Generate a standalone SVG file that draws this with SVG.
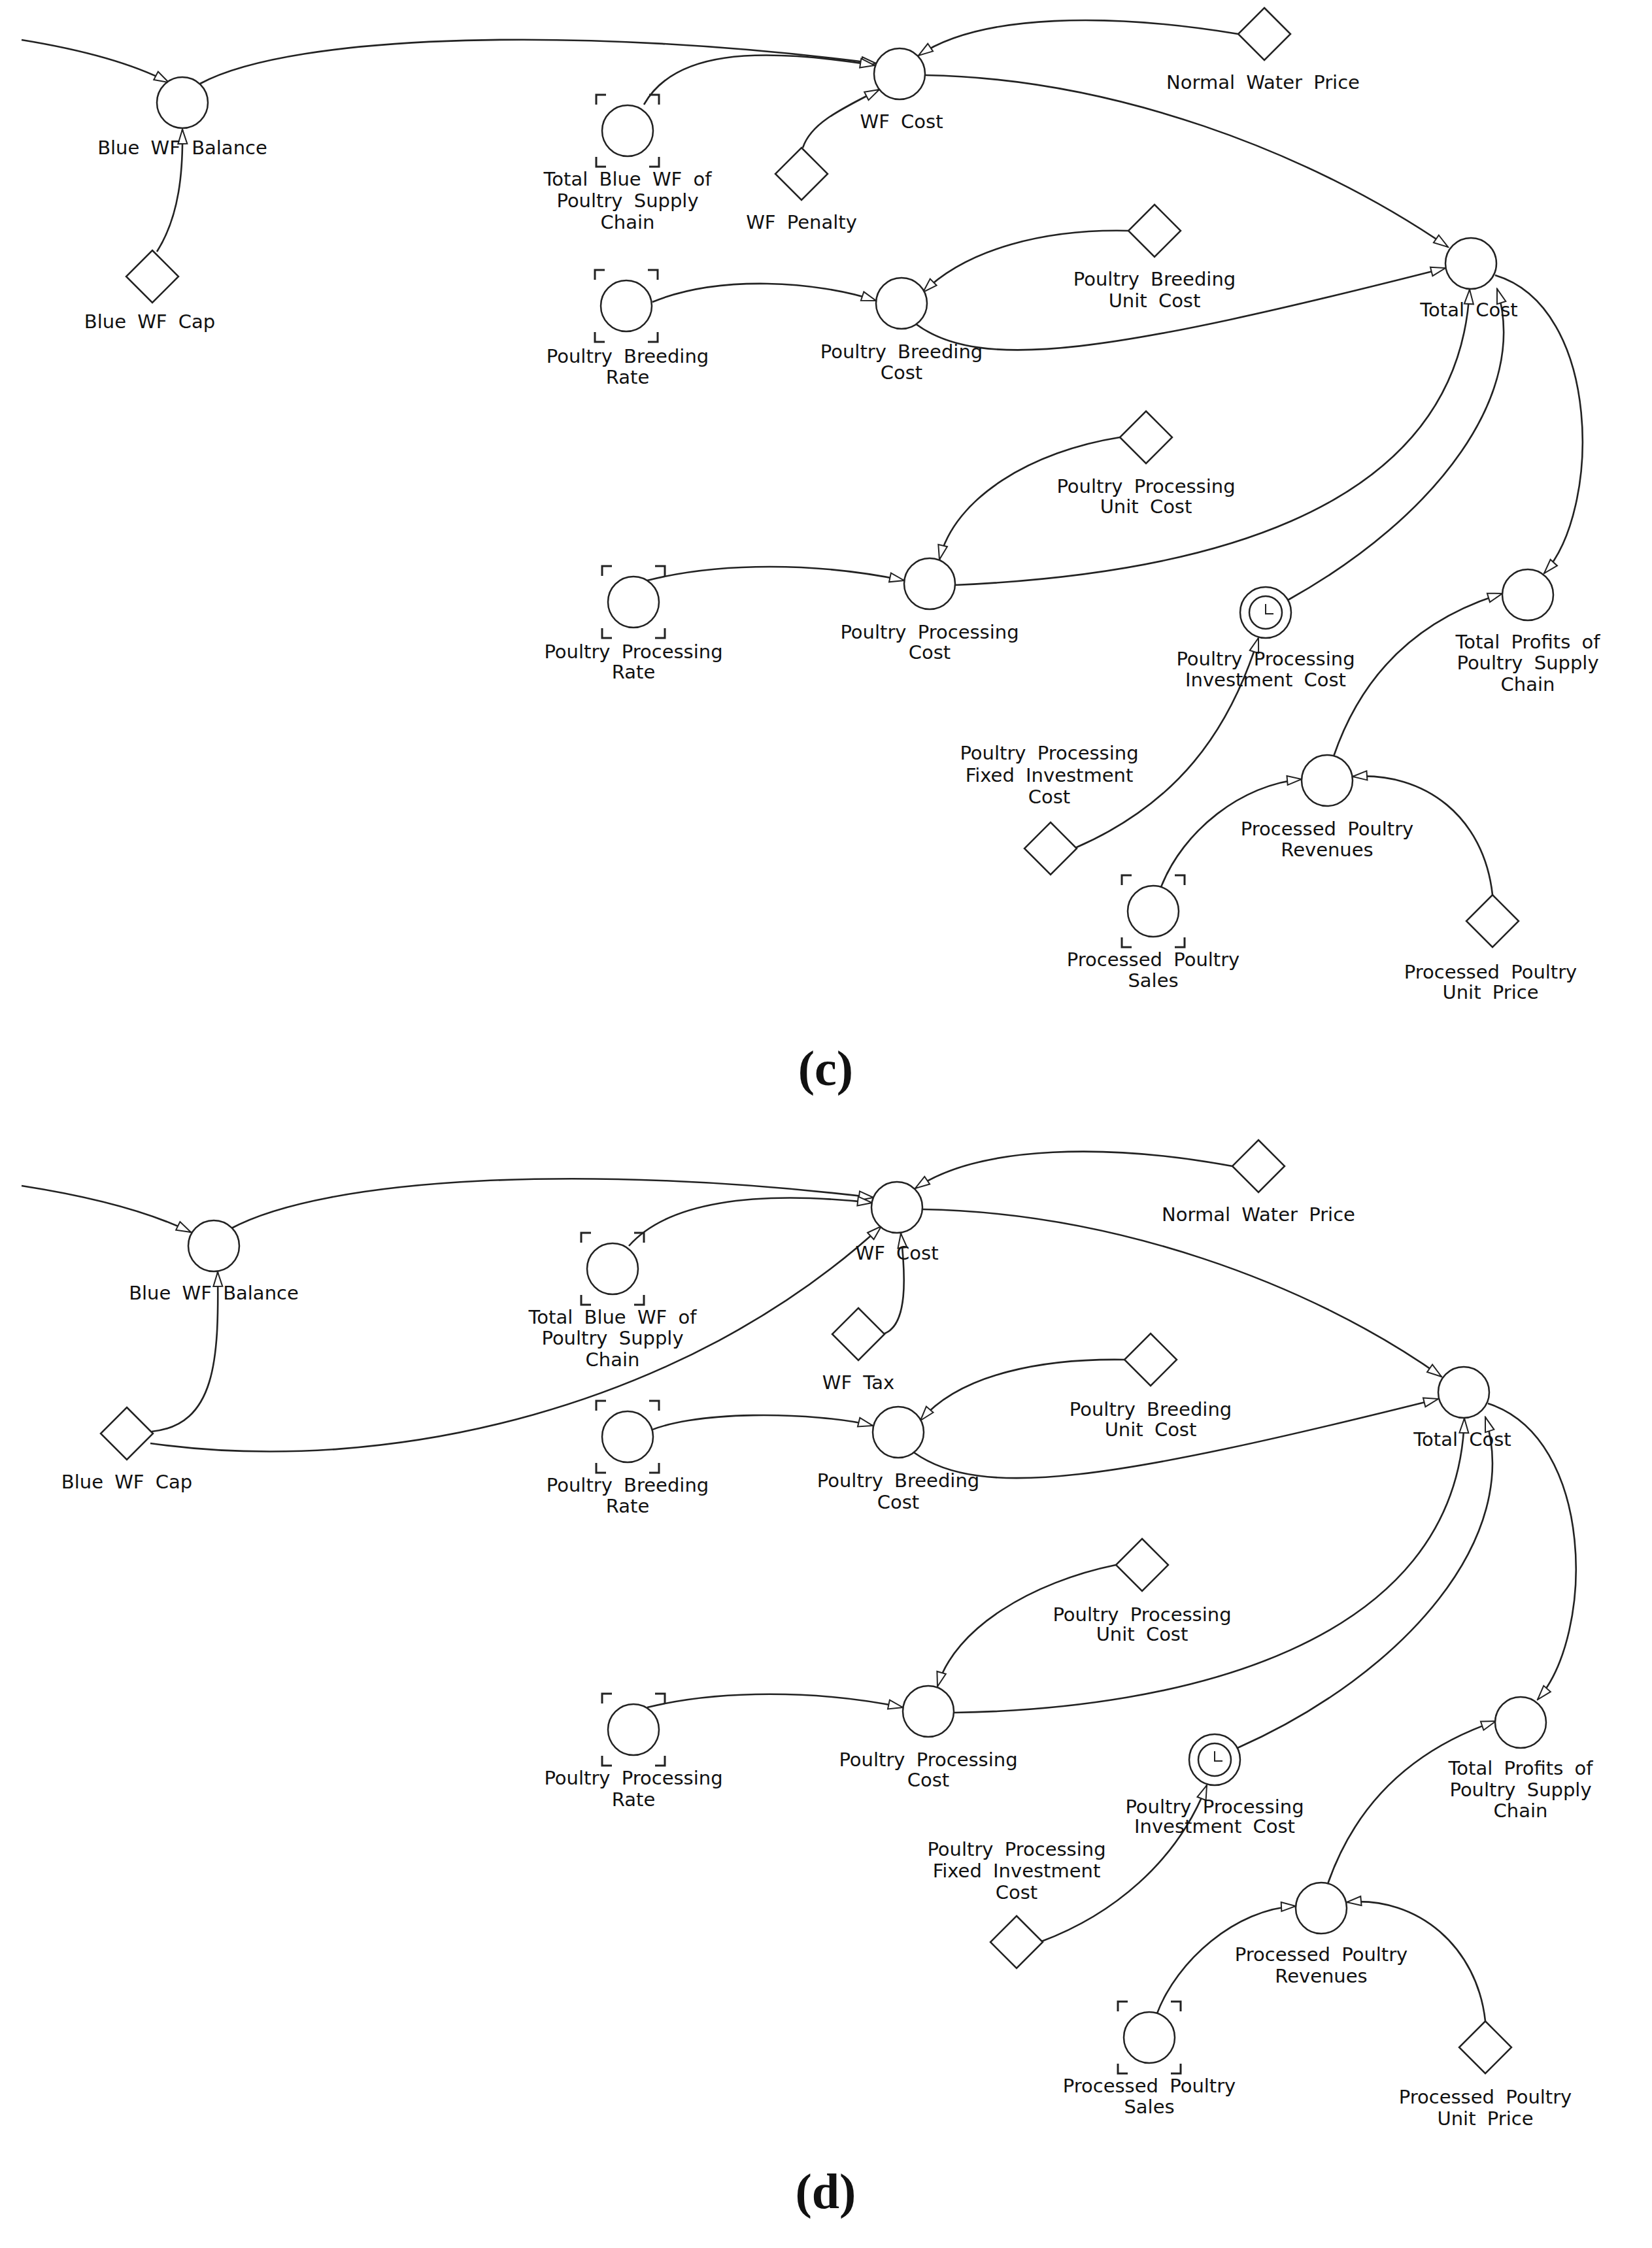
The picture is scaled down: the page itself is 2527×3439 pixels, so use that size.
<svg xmlns="http://www.w3.org/2000/svg" xmlns:xlink="http://www.w3.org/1999/xlink" width="2527" height="3439" viewBox="0 0 2527 3439">
<style>
.n{fill:#fff;stroke:#222;stroke-width:2.5}
.b{fill:none;stroke:#222;stroke-width:3}
.c path{fill:none;stroke:#222;stroke-width:2.6}
text{font-family:"DejaVu Sans",Verdana,sans-serif;font-size:29px;fill:#111;text-anchor:middle;word-spacing:8px}
.cap{font-family:"Liberation Serif",serif;font-size:76px;font-weight:bold}
</style>
<defs>
<marker id="a" markerUnits="userSpaceOnUse" markerWidth="26" markerHeight="20" refX="24" refY="9" orient="auto"><path d="M2,2 L24,9 L2,16 Z" fill="#fff" stroke="#222" stroke-width="2"/></marker>
<path id="brk" class="b" d="M-48,-40 v-15 h15 M33,-55 h15 v15 M-48,40 v15 h15 M33,55 h15 v-15"/>
<path id="dia" class="n" d="M0,-40 L40,0 L0,40 L-40,0 Z"/>
</defs>
<rect width="2527" height="3439" fill="#fff"/>
<g class="c" marker-end="url(#a)">
<path d="M33 61 Q180 85 258 126"/>
<path d="M306 128 C450 50 900 40 1340 97"/>
<path d="M240 385 C275 330 280 260 279 198"/>
<path d="M985 160 C1030 80 1150 70 1338 100"/>
<path d="M1228 226 C1240 190 1280 170 1345 137"/>
<path d="M1894 52 C1700 20 1500 20 1405 85"/>
<path d="M1416 115 C1700 120 2000 230 2215 378"/>
<path d="M1726 353 C1600 350 1480 380 1412 447"/>
<path d="M998 462 C1100 420 1250 430 1340 460"/>
<path d="M1400 495 C1500 570 1700 540 2211 410"/>
<path d="M1713 669 C1580 690 1460 760 1437 856"/>
<path d="M990 888 C1100 860 1250 860 1383 888"/>
<path d="M1461 895 C1800 880 2230 800 2248 443"/>
<path d="M1970 918 C2200 790 2340 600 2290 442"/>
<path d="M2287 421 C2450 470 2450 780 2362 877"/>
<path d="M1645 1297 C1800 1230 1880 1120 1925 976"/>
<path d="M2040 1157 C2080 1040 2160 950 2298 908"/>
<path d="M1776 1357 C1810 1270 1900 1200 1991 1192"/>
<path d="M2283 1369 C2270 1250 2180 1180 2069 1188"/>

<path d="M33 1814 Q200 1840 292 1885"/>
<path d="M352 1880 C500 1800 900 1780 1336 1832"/>
<path d="M232 2190 C330 2180 335 2080 333 1946"/>
<path d="M230 2208 C600 2260 1050 2150 1348 1876"/>
<path d="M962 1906 C1020 1840 1150 1820 1334 1840"/>
<path d="M1350 2041 C1390 2030 1385 1950 1378 1887"/>
<path d="M1885 1784 C1700 1750 1500 1750 1400 1818"/>
<path d="M1411 1850 C1700 1855 2000 1960 2205 2106"/>
<path d="M1720 2080 C1600 2078 1470 2100 1408 2173"/>
<path d="M981 2195 C1050 2155 1250 2160 1335 2181"/>
<path d="M1398 2222 C1500 2295 1700 2265 2200 2140"/>
<path d="M1707 2394 C1580 2420 1460 2490 1434 2580"/>
<path d="M990 2612 C1100 2585 1250 2585 1381 2612"/>
<path d="M1459 2620 C1800 2615 2230 2520 2240 2170"/>
<path d="M1893 2674 C2150 2560 2330 2350 2272 2168"/>
<path d="M2276 2147 C2440 2200 2440 2500 2352 2600"/>
<path d="M1593 2970 C1700 2930 1800 2850 1846 2731"/>
<path d="M2031 2882 C2070 2770 2150 2680 2288 2633"/>
<path d="M1770 3080 C1800 3000 1890 2920 1982 2916"/>
<path d="M2272 3092 C2260 2980 2170 2900 2060 2910"/>
</g>

<!-- panel c -->
<g id="c_bal"><circle class="n" cx="279" cy="157" r="39"/><text x="279" y="236">Blue WF Balance</text></g>
<g id="c_cap"><use href="#dia" x="233" y="423"/><text x="229" y="502">Blue WF Cap</text></g>
<g id="c_tbwf"><use href="#brk" x="960" y="200"/><circle class="n" cx="960" cy="200" r="39"/><text x="960" y="284">Total Blue WF of</text><text x="960" y="317">Poultry Supply</text><text x="960" y="350">Chain</text></g>
<g id="c_wfc"><circle class="n" cx="1376" cy="113" r="39"/><text x="1379" y="196">WF Cost</text></g>
<g id="c_pen"><use href="#dia" x="1226" y="266"/><text x="1226" y="350">WF Penalty</text></g>
<g id="c_nwp"><use href="#dia" x="1934" y="52"/><text x="1932" y="136">Normal Water Price</text></g>
<g id="c_tc"><circle class="n" cx="2250" cy="403" r="39"/><text x="2247" y="484">Total Cost</text></g>
<g id="c_pbuc"><use href="#dia" x="1766" y="353"/><text x="1766" y="437">Poultry Breeding</text><text x="1766" y="470">Unit Cost</text></g>
<g id="c_pbr"><use href="#brk" x="958" y="468"/><circle class="n" cx="958" cy="468" r="39"/><text x="960" y="555">Poultry Breeding</text><text x="960" y="587">Rate</text></g>
<g id="c_pbc"><circle class="n" cx="1379" cy="464" r="39"/><text x="1379" y="548">Poultry Breeding</text><text x="1379" y="580">Cost</text></g>
<g id="c_ppuc"><use href="#dia" x="1753" y="669"/><text x="1753" y="754">Poultry Processing</text><text x="1753" y="785">Unit Cost</text></g>
<g id="c_ppr"><use href="#brk" x="969" y="921"/><circle class="n" cx="969" cy="921" r="39"/><text x="969" y="1007">Poultry Processing</text><text x="969" y="1038">Rate</text></g>
<g id="c_ppc"><circle class="n" cx="1422" cy="893" r="39"/><text x="1422" y="977">Poultry Processing</text><text x="1422" y="1008">Cost</text></g>
<g id="c_ppi"><circle class="n" cx="1936" cy="937" r="39"/><circle class="n" cx="1936" cy="937" r="25"/><path class="b" d="M1936 924 V939 H1948" style="stroke-width:2"/><text x="1936" y="1018">Poultry Processing</text><text x="1936" y="1050">Investment Cost</text></g>
<g id="c_tp"><circle class="n" cx="2337" cy="910" r="39"/><text x="2337" y="992">Total Profits of</text><text x="2337" y="1024">Poultry Supply</text><text x="2337" y="1057">Chain</text></g>
<g id="c_fic"><use href="#dia" x="1607" y="1298"/><text x="1605" y="1162">Poultry Processing</text><text x="1605" y="1196">Fixed Investment</text><text x="1605" y="1229">Cost</text></g>
<g id="c_rev"><circle class="n" cx="2030" cy="1194" r="39"/><text x="2030" y="1278">Processed Poultry</text><text x="2030" y="1310">Revenues</text></g>
<g id="c_sal"><use href="#brk" x="1764" y="1394"/><circle class="n" cx="1764" cy="1394" r="39"/><text x="1764" y="1478">Processed Poultry</text><text x="1764" y="1510">Sales</text></g>
<g id="c_pup"><use href="#dia" x="2283" y="1409"/><text x="2280" y="1497">Processed Poultry</text><text x="2280" y="1528">Unit Price</text></g>
<text class="cap" x="1263" y="1660">(c)</text>

<!-- panel d -->
<g id="d_bal"><circle class="n" cx="327" cy="1906" r="39"/><text x="327" y="1988">Blue WF Balance</text></g>
<g id="d_cap"><use href="#dia" x="194" y="2193"/><text x="194" y="2277">Blue WF Cap</text></g>
<g id="d_tbwf"><use href="#brk" x="937" y="1941"/><circle class="n" cx="937" cy="1941" r="39"/><text x="937" y="2025">Total Blue WF of</text><text x="937" y="2057">Poultry Supply</text><text x="937" y="2090">Chain</text></g>
<g id="d_wfc"><circle class="n" cx="1372" cy="1847" r="39"/><text x="1372" y="1927">WF Cost</text></g>
<g id="d_tax"><use href="#dia" x="1313" y="2041"/><text x="1313" y="2125">WF Tax</text></g>
<g id="d_nwp"><use href="#dia" x="1925" y="1784"/><text x="1925" y="1868">Normal Water Price</text></g>
<g id="d_tc"><circle class="n" cx="2239" cy="2130" r="39"/><text x="2237" y="2212">Total Cost</text></g>
<g id="d_pbuc"><use href="#dia" x="1760" y="2080"/><text x="1760" y="2166">Poultry Breeding</text><text x="1760" y="2197">Unit Cost</text></g>
<g id="d_pbr"><use href="#brk" x="960" y="2198"/><circle class="n" cx="960" cy="2198" r="39"/><text x="960" y="2282">Poultry Breeding</text><text x="960" y="2314">Rate</text></g>
<g id="d_pbc"><circle class="n" cx="1374" cy="2191" r="39"/><text x="1374" y="2275">Poultry Breeding</text><text x="1374" y="2308">Cost</text></g>
<g id="d_ppuc"><use href="#dia" x="1747" y="2394"/><text x="1747" y="2480">Poultry Processing</text><text x="1747" y="2510">Unit Cost</text></g>
<g id="d_ppr"><use href="#brk" x="969" y="2646"/><circle class="n" cx="969" cy="2646" r="39"/><text x="969" y="2730">Poultry Processing</text><text x="969" y="2763">Rate</text></g>
<g id="d_ppc"><circle class="n" cx="1420" cy="2618" r="39"/><text x="1420" y="2702">Poultry Processing</text><text x="1420" y="2733">Cost</text></g>
<g id="d_ppi"><circle class="n" cx="1858" cy="2692" r="39"/><circle class="n" cx="1858" cy="2692" r="25"/><path class="b" d="M1858 2679 V2694 H1870" style="stroke-width:2"/><text x="1858" y="2774">Poultry Processing</text><text x="1858" y="2804">Investment Cost</text></g>
<g id="d_tp"><circle class="n" cx="2326" cy="2635" r="39"/><text x="2326" y="2715">Total Profits of</text><text x="2326" y="2748">Poultry Supply</text><text x="2326" y="2780">Chain</text></g>
<g id="d_fic"><use href="#dia" x="1555" y="2971"/><text x="1555" y="2839">Poultry Processing</text><text x="1555" y="2872">Fixed Investment</text><text x="1555" y="2905">Cost</text></g>
<g id="d_rev"><circle class="n" cx="2021" cy="2919" r="39"/><text x="2021" y="3000">Processed Poultry</text><text x="2021" y="3033">Revenues</text></g>
<g id="d_sal"><use href="#brk" x="1758" y="3117"/><circle class="n" cx="1758" cy="3117" r="39"/><text x="1758" y="3201">Processed Poultry</text><text x="1758" y="3233">Sales</text></g>
<g id="d_pup"><use href="#dia" x="2272" y="3132"/><text x="2272" y="3218">Processed Poultry</text><text x="2272" y="3251">Unit Price</text></g>
<text class="cap" x="1263" y="3378">(d)</text>
</svg>
